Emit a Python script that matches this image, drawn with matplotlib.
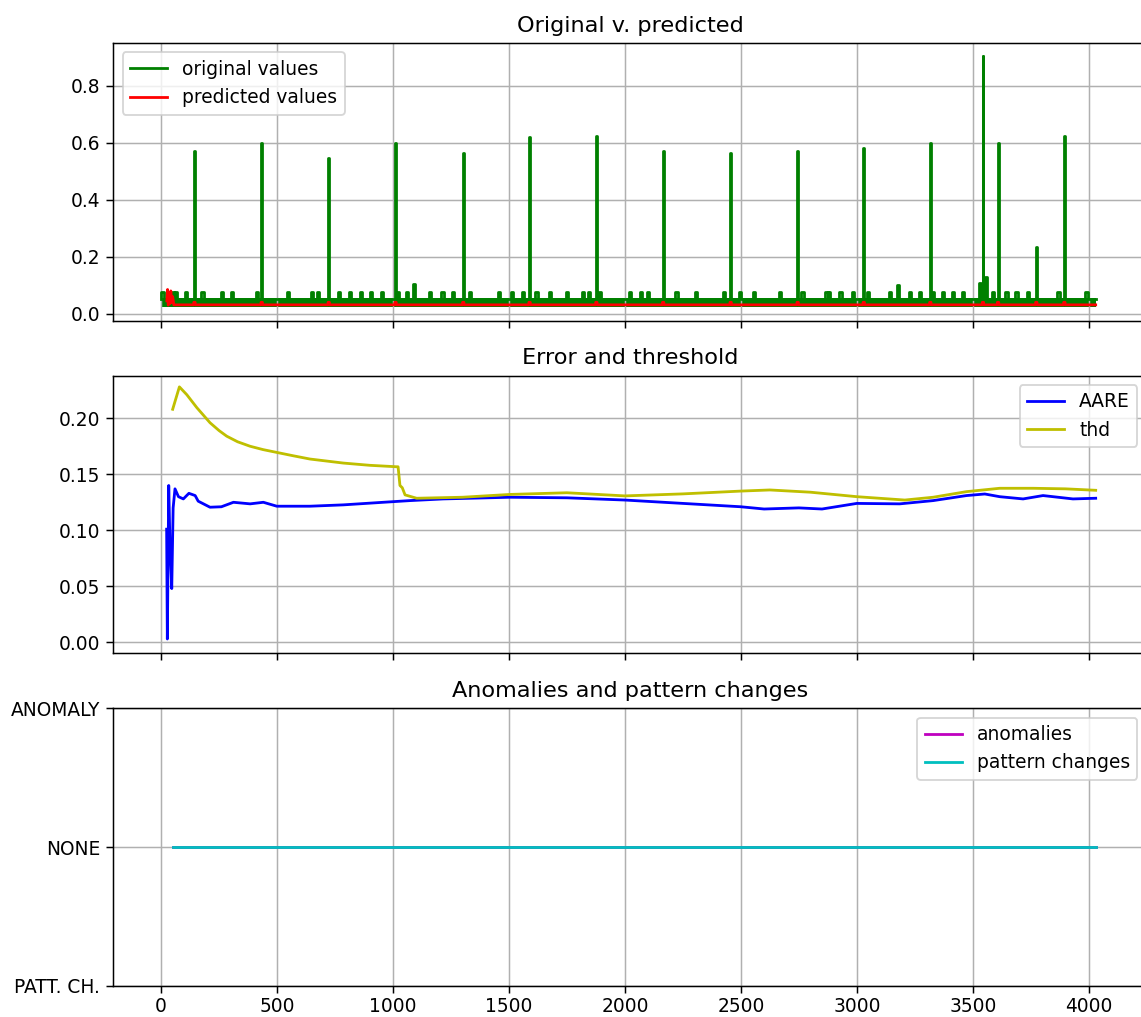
import numpy as np
import matplotlib
matplotlib.use("Agg")
import matplotlib.pyplot as plt

# ------------------------------------------------------------
# values
# ------------------------------------------------------------
X_START, X_END = 0, 4030

# original values: flat noisy base, short bumps and tall spikes
orig_base = 0.050
orig_band_lo, orig_band_hi = 0.024, 0.054
spike_x = [144, 434, 723, 1011, 1303, 1589, 1877, 2165, 2456, 2745,
           3030, 3317, 3544, 3609, 3774, 3895]
spike_y = [0.572, 0.599, 0.546, 0.599, 0.564, 0.622, 0.625, 0.573, 0.564, 0.573,
           0.581, 0.598, 0.907, 0.598, 0.236, 0.625]
bump_x = [6, 50, 65, 108, 178, 263, 305, 414, 546, 652, 678, 766,
          815, 862, 904, 953, 1023, 1059, 1091, 1159, 1214, 1260, 1332, 1456,
          1512, 1562, 1619, 1677, 1751, 1820, 1846, 1892, 2022, 2069, 2101,
          2223, 2306, 2427, 2496, 2556, 2668, 2766, 2869, 2881, 2930, 2984,
          3049, 3142, 3178, 3228, 3272, 3329, 3372, 3415, 3458, 3530, 3556,
          3588, 3645, 3688, 3738, 3869, 3990]
bump_y = [0.077] * len(bump_x)
bump_y[bump_x.index(1091)] = 0.105
bump_y[bump_x.index(3178)] = 0.100
bump_y[bump_x.index(3530)] = 0.108
bump_y[bump_x.index(3556)] = 0.128

# predicted values
pred_base = 0.031
pred_start_x = [25, 28, 31, 34, 38, 42, 46, 50, 55]
pred_start_y = [0.045, 0.085, 0.030, 0.070, 0.035, 0.080, 0.040, 0.060, 0.032]
pred_blip = 0.040

# error and threshold
aare_x = [24, 27, 33, 38, 46, 52, 60, 75, 96, 120, 147, 160, 211, 260, 312,
          384, 441, 499, 642, 786, 958, 1073, 1217, 1504, 1750, 2000, 2250,
          2500, 2600, 2750, 2850, 3000, 3185, 3329, 3473, 3552, 3616, 3717,
          3803, 3932, 4030]
aare_y = [0.101, 0.003, 0.140, 0.090, 0.048, 0.120, 0.137, 0.130, 0.128, 0.133,
          0.131, 0.126, 0.1206, 0.121, 0.125, 0.1236, 0.125, 0.1215, 0.1215,
          0.1227, 0.125, 0.1265, 0.128, 0.1295, 0.129, 0.127, 0.124, 0.121,
          0.119, 0.120, 0.119, 0.124, 0.1236, 0.1265, 0.131, 0.1324, 0.130,
          0.128, 0.131, 0.128, 0.1286]
thd_x = [50, 79, 111, 154, 211, 250, 283, 330, 384, 440, 499, 570, 642, 786,
         900, 1016, 1022, 1030, 1040, 1052, 1102, 1300, 1504, 1750, 2000, 2250,
         2500, 2625, 2800, 3000, 3207, 3329, 3473, 3616, 3760, 3900, 4030]
thd_y = [0.208, 0.228, 0.221, 0.2095, 0.196, 0.189, 0.184, 0.179, 0.175,
         0.172, 0.1695, 0.1665, 0.1636, 0.160, 0.158, 0.1567, 0.1567, 0.140,
         0.138, 0.1316, 0.1286, 0.1295, 0.132, 0.1335, 0.1307, 0.1325, 0.135,
         0.136, 0.134, 0.130, 0.127, 0.1295, 0.1345, 0.1375, 0.1375, 0.137,
         0.1357]

# anomalies / pattern changes (all NONE)
flag_x = [50, 4030]
anomalies = [0, 0]
pattern_changes = [0, 0]
flag_ticks = [-1, 0, 1]
flag_labels = ["PATT. CH.", "NONE", "ANOMALY"]


def events_to_line(start, end, base, xs, ys, widths):
    # flat line with rectangular pulses at the listed events
    px, py = [start], [base]
    for xe, ye, w in sorted(zip(xs, ys, widths)):
        a, b = xe - w / 2, xe + w / 2
        px += [a, a, b, b]
        py += [base, ye, ye, base]
    px.append(end)
    py.append(base)
    return px, py


ox, oy = events_to_line(X_START, X_END, orig_base,
                        spike_x + bump_x, spike_y + bump_y,
                        [4] * len(spike_x) + [10] * len(bump_x))

rx, ry = events_to_line(pred_start_x[-1], X_END, pred_base, spike_x,
                        [pred_blip] * len(spike_x), [6] * len(spike_x))
rx = pred_start_x[:-1] + rx
ry = pred_start_y[:-1] + ry

# ------------------------------------------------------------
# figure
# ------------------------------------------------------------
DPI = 134
fig, (ax1, ax2, ax3) = plt.subplots(3, 1, figsize=(1141 / DPI, 1017 / DPI), dpi=DPI, sharex=True)
fig.subplots_adjust(left=0.0993, right=1.005, top=0.9577, bottom=0.0305, hspace=0.198)

ax1.fill_between([X_START, X_END], orig_band_lo, orig_band_hi, color="g", lw=0)
ax1.plot(ox, oy, "g", lw=1.5, label="original values")
ax1.plot(rx, ry, "r", lw=1.5, label="predicted values")
ax1.set_title("Original v. predicted")
ax1.set_ylim(-0.0246, 0.951)
ax1.legend(loc="upper left")
ax1.grid(True)

ax2.plot(aare_x, aare_y, "b", lw=1.5, label="AARE")
ax2.plot(thd_x, thd_y, "y", lw=1.5, label="thd")
ax2.set_title("Error and threshold")
ax2.set_ylim(-0.0098, 0.238)
ax2.legend(loc="upper right")
ax2.grid(True)

ax3.plot(flag_x, anomalies, "m", lw=1.5, label="anomalies")
ax3.plot(flag_x, pattern_changes, "c", lw=1.5, label="pattern changes")
ax3.set_title("Anomalies and pattern changes")
ax3.set_ylim(-1, 1)
ax3.set_yticks(flag_ticks)
ax3.set_yticklabels(flag_labels)
ax3.legend(loc="upper right")
ax3.grid(True)

ax3.set_xlim(-206, 4250)
ax3.set_xticks(np.arange(0, 4001, 500))
ax3.tick_params(axis="x", pad=2.5)

plt.savefig("out.png", dpi=DPI)
